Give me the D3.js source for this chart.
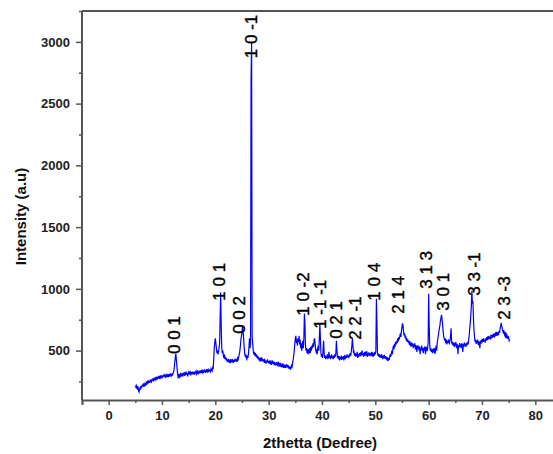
<!DOCTYPE html>
<html><head><meta charset="utf-8">
<script src="https://cdn.jsdelivr.net/npm/d3@7"></script>
<style>body{margin:0;background:#fff}svg{display:block}</style>
</head><body>
<script>
// XRD pattern sampled every 0.1 degree from 5.0 degrees
const angleStart = 5.0;
const angleStep = 0.1;
const intensity = [
 215,205,225,195,190,210,175,165,190,200,
 185,215,200,225,210,235,205,220,240,215,
 230,250,225,245,260,235,255,240,265,250,
 245,270,255,275,250,280,265,260,285,270,
 280,265,290,275,295,270,285,300,280,290,
 275,300,285,305,290,310,280,295,305,290,
 300,285,310,295,305,290,315,300,295,310,
 305,320,330,360,410,450,475,420,370,320,
 290,300,275,310,285,320,295,300,315,290,
 320,300,325,295,315,330,305,320,290,315,
 325,305,320,335,300,325,310,330,315,320,
 305,330,315,325,335,310,320,340,315,325,
 330,315,340,320,335,325,345,315,330,340,
 325,345,320,335,350,330,340,325,345,335,
 340,330,355,345,335,360,350,430,520,570,
 600,560,520,480,500,470,490,520,560,760,
 970,700,520,480,500,460,440,470,430,450,
 420,440,410,430,405,425,415,400,430,410,
 420,405,430,415,400,425,410,435,420,415,
 425,410,440,430,455,470,500,540,590,620,
 650,700,660,600,530,480,450,470,440,430,
 460,440,470,520,600,520,560,2700,2990,620,
 560,500,470,490,460,480,450,470,440,460,
 430,450,420,440,410,435,425,445,415,430,
 410,430,400,425,415,395,420,405,430,400,
 415,395,420,400,410,385,405,420,390,410,
 395,410,380,400,385,405,375,395,410,380,
 390,370,400,380,365,395,375,385,360,380,
 370,385,360,375,390,365,380,355,370,360,
 365,345,360,380,370,400,430,460,500,560,
 600,620,560,590,540,600,570,620,550,590,
 520,560,500,540,580,520,600,800,720,540,
 500,520,480,510,470,500,490,520,480,530,
 500,540,520,560,530,580,600,560,510,490,
 500,470,520,540,500,600,715,600,480,450,
 470,440,500,580,480,440,460,430,455,440,
 470,430,450,490,440,460,430,450,470,440,
 455,430,460,440,470,450,480,580,500,440,
 460,430,455,420,445,430,460,425,450,435,
 455,420,445,465,430,455,440,470,445,460,
 440,470,450,480,460,500,540,600,540,480,
 490,460,480,450,475,455,490,440,470,450,
 480,460,485,455,475,500,460,480,450,470,
 490,460,480,470,495,450,475,460,485,470,
 455,480,460,490,465,475,450,480,460,490,
 470,500,920,720,480,460,475,450,470,445,
 465,440,470,450,430,460,440,465,435,455,
 430,450,420,445,415,440,425,455,470,450,
 480,500,470,520,540,510,555,530,570,550,
 580,560,600,575,610,590,620,640,610,660,
 690,720,700,650,620,640,600,620,580,600,
 570,590,560,580,545,575,550,530,565,540,
 560,520,550,530,560,510,545,520,490,540,
 515,540,500,530,470,525,505,540,495,520,
 480,525,500,535,470,510,530,495,520,560,
 960,700,540,500,520,490,510,480,515,500,
 490,520,475,510,540,500,560,590,620,650,
 680,700,740,760,790,760,720,660,620,600,
 580,600,560,590,550,580,560,590,570,560,
 580,620,680,580,550,570,540,565,530,560,
 540,570,520,555,535,470,545,525,560,530,
 550,520,560,535,490,555,530,565,540,555,
 530,560,545,570,550,590,620,680,720,790,
 860,985,880,900,760,660,610,570,590,555,
 580,560,590,545,575,560,520,580,555,590,
 565,595,570,600,575,590,565,600,580,610,
 585,615,590,620,595,610,590,630,600,625,
 605,635,610,640,615,625,650,620,640,630,
 650,625,660,645,680,700,725,700,680,660,
 640,665,630,620,650,600,640,610,595,620,
 600,580,590
];
const data = intensity.map((v, i) => ({angle: angleStart + i * angleStep, value: v}));

// Peak (hkl) labels: angle and intensity where the label begins
const peakLabels = ["0 0 1","1 0 1","0 0 2","1 0 -1","1 0 -2","1 -1 -1","0 2 1","2 2 -1","1 0 4","2 1 4","3 1 3","3 0 1","3 3 -1","2 3 -3"];
const labelAngles = [12.25,20.7,24.6,26.7,36.6,39.8,42.8,46.2,49.9,54.4,59.5,62.7,68.5,74.2];
const labelIntensities = [473,904,636,2868,782,676,595,587,904,798,1001,823,944,749];

const xMajorTicks = [0,10,20,30,40,50,60,70,80];
const xMinorTicks = [-5,5,15,25,35,45,55,65,75,85];
const yMajorTicks = [500,1000,1500,2000,2500,3000];
const yMinorTicks = [250,750,1250,1750,2250,2750,3250];
const xDomain = [-5, 85];
const yDomain = [100, 3250];
const xTitle = "2thetta (Dedree)";
const yTitle = "Intensity (a.u)";

const W = 553, H = 454;
const L = 82, R = 562, T = 11, B = 400;
const svg = d3.select("body").append("svg").attr("width", W).attr("height", H);
const x = d3.scaleLinear().domain(xDomain).range([L, R]);
const y = d3.scaleLinear().domain(yDomain).range([B, T]);
const axisColor = "#555";
const font = "Arial, 'Liberation Sans', sans-serif";

// data line
svg.append("path").datum(data)
  .attr("fill", "none").attr("stroke", "#0000ff").attr("stroke-width", 1.2)
  .attr("stroke-linejoin", "miter")
  .attr("d", d3.line().x(d => x(d.angle)).y(d => y(d.value)));

// frame
svg.append("line").attr("x1", L).attr("x2", R).attr("y1", T).attr("y2", T)
  .attr("stroke", axisColor).attr("stroke-width", 2);
svg.append("line").attr("x1", R).attr("x2", R).attr("y1", T).attr("y2", B)
  .attr("stroke", axisColor).attr("stroke-width", 2);

// bottom axis
const gx = svg.append("g").attr("transform", `translate(0,${B})`)
  .call(d3.axisBottom(x).tickValues(xMajorTicks).tickSize(5).tickPadding(6).tickFormat(d3.format("d")));
const gxm = svg.append("g").attr("transform", `translate(0,${B})`)
  .call(d3.axisBottom(x).tickValues(xMinorTicks).tickSize(3).tickFormat(""));
// left axis
const gy = svg.append("g").attr("transform", `translate(${L},0)`)
  .call(d3.axisLeft(y).tickValues(yMajorTicks).tickSize(6).tickPadding(6).tickFormat(d3.format("d")));
const gym = svg.append("g").attr("transform", `translate(${L},0)`)
  .call(d3.axisLeft(y).tickValues(yMinorTicks).tickSize(3).tickFormat(""));

[gx, gxm, gy, gym].forEach(g => {
  g.select(".domain").attr("stroke", axisColor).attr("stroke-width", 2);
  g.selectAll(".tick line").attr("stroke", axisColor).attr("stroke-width", 1.5);
  g.selectAll(".tick text").attr("font-family", font).attr("font-size", 13)
    .attr("font-weight", "bold").attr("fill", "#222");
});
gy.select(".domain").attr("d", `M0,${B}V${T}`);
gym.select(".domain").remove();
gxm.select(".domain").remove();

// axis titles
svg.append("text").attr("x", (x(-5) + x(85)) / 2 - 2).attr("y", 448)
  .attr("text-anchor", "middle").attr("font-family", font).attr("font-size", 15)
  .attr("font-weight", "bold").attr("fill", "#111").text(xTitle);
svg.append("text").attr("transform", `translate(26,${(T + B) / 2 + 11}) rotate(-90)`)
  .attr("text-anchor", "middle").attr("font-family", font).attr("font-size", 15)
  .attr("font-weight", "bold").attr("fill", "#111").text(yTitle);

// peak labels
svg.append("g").selectAll("text").data(peakLabels).join("text")
  .attr("transform", (d, i) => `translate(${x(labelAngles[i])},${y(labelIntensities[i])}) rotate(-90)`)
  .attr("dominant-baseline", "central")
  .attr("font-family", font).attr("font-size", 17).attr("fill", "#000")
  .attr("stroke", "#000").attr("stroke-width", 0.4)
  .text(d => d);
</script>
</body></html>
